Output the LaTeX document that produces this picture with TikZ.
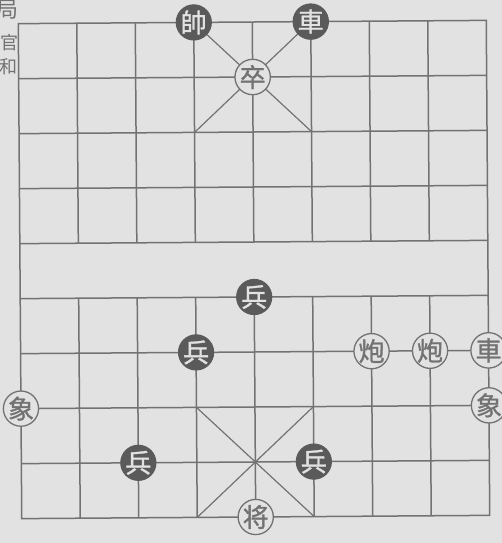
\documentclass[tikz,border=0pt]{standalone}
\usepackage{fontspec}
\newfontfamily\cjk[FakeBold=1.2]{Noto Sans CJK TC}
\newfontfamily\cjkside{Noto Sans CJK TC}
\definecolor{paper}{HTML}{E2E2E2}
\definecolor{ink}{HTML}{727272}
\definecolor{darkp}{HTML}{5A5A5A}
\begin{document}
\begin{tikzpicture}[x=1pt,y=-1pt,
  grid/.style={draw=ink, line width=1.5pt},
  pc/.style={circle, minimum size=35pt, inner sep=0pt, font=\cjk\fontsize{26}{26}\selectfont},
  blackpc/.style={pc, fill=darkp, draw=darkp, line width=1pt, text=paper},
  whitepc/.style={pc, fill=paper, draw=ink, line width=1.3pt, text=ink},
  side/.style={text=ink, inner sep=0pt, font=\cjkside\fontsize{18}{18}\selectfont}]
\fill[paper] (0,0) rectangle (502,543);
\useasboundingbox (0,0) rectangle (502,543);
% marginal text
\node[side, font=\cjkside\fontsize{22}{22}\selectfont] (t1) at (8,10) {局};
\node[side] (t2) at (9,43) {官};
\node[side] (t3) at (8,67) {和};
\begin{scope}[rotate around={0.4:(254,270)}]
\begin{scope}[shift={(20,22)}, x=58.5pt, y=-55pt]
  % board
  \draw[grid] (0,0) rectangle (8,9);
  \foreach \r in {1,...,8} \draw[grid] (0,\r) -- (8,\r);
  \foreach \c in {1,...,7} {
    \draw[grid] (\c,0) -- (\c,4);
    \draw[grid] (\c,5) -- (\c,9);
  }
  % palaces
  \draw[grid, line width=1.2pt] (3,0) -- (5,2) (5,0) -- (3,2);
  \draw[grid, line width=1.2pt] (3,7) -- (5,9) (5,7) -- (3,9);
  % black pieces
  \node[blackpc] (bs) at (3,0) {帥};
  \node[blackpc] (br) at (5,0) {車};
  \node[blackpc] (bp1) at (4,5) {兵};
  \node[blackpc] (bp2) at (3,6) {兵};
  \node[blackpc] (bp3) at (2,8) {兵};
  \node[blackpc] (bp4) at (5,8) {兵};
  % white pieces
  \node[whitepc] (wz) at (4,1) {卒};
  \node[whitepc] (wc1) at (6,6) {炮};
  \node[whitepc] (wc2) at (7,6) {炮};
  \node[whitepc] (wr) at (8,6) {車};
  \node[whitepc] (we1) at (8,7) {象};
  \node[whitepc] (we2) at (0,7) {象};
  \node[whitepc] (wk) at (4,9) {将};
\end{scope}
\end{scope}
\end{tikzpicture}
\end{document}
